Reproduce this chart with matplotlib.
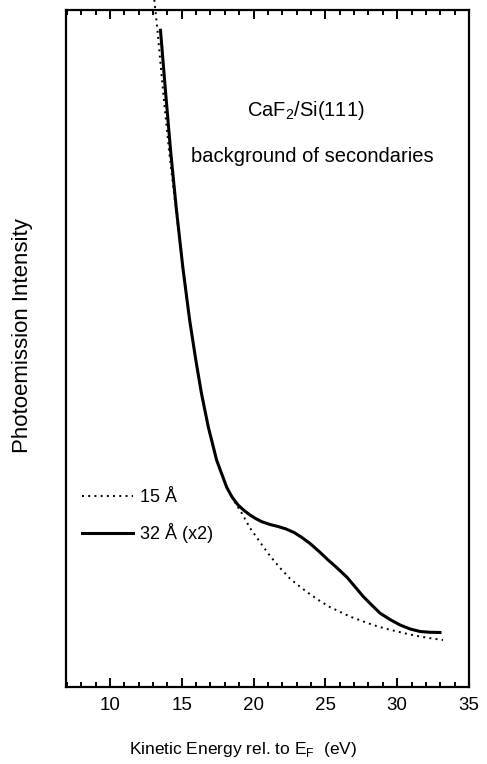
import numpy as np
import matplotlib
matplotlib.use("Agg")
import matplotlib.pyplot as plt
from matplotlib.ticker import MultipleLocator

plt.rcParams['font.family'] = ['Liberation Sans', 'DejaVu Sans']

# secondary-electron background, 32 A film (scaled x2)
e_32 = [13.52, 13.86, 14.22, 14.63, 15.08, 15.55, 15.98, 16.37, 16.85,
        17.43, 18.13, 18.50, 18.92, 19.34, 19.75, 20.17, 20.59, 21.15,
        21.70, 22.26, 22.82, 23.37, 23.93, 24.49, 25.12, 25.81, 26.51,
        27.07, 27.62, 28.18, 28.81, 29.50, 30.20, 30.90, 31.59, 32.29,
        32.98]
i_32 = [0.970, 0.882, 0.793, 0.705, 0.619, 0.542, 0.483, 0.434, 0.384,
        0.335, 0.295, 0.2807, 0.2688, 0.2607, 0.2541, 0.2485, 0.2440, 0.2400,
        0.2371, 0.2334, 0.2282, 0.2208, 0.2120, 0.2016, 0.189, 0.176, 0.162,
        0.148, 0.134, 0.122, 0.109, 0.0997, 0.0916, 0.0857, 0.0820, 0.0808,
        0.0805]

# 15 A film
e_15 = [13.09, 13.31, 13.69, 14.11, 14.60, 15.08, 15.55, 15.98, 16.37,
        16.85, 17.43, 18.13, 18.64, 19.20, 19.75, 20.45, 21.15, 21.84,
        22.54, 23.24, 23.93, 24.63, 25.32, 26.02, 26.72, 27.55, 28.32,
        29.15, 29.99, 30.90, 31.59, 32.43, 33.19]
i_15 = [1.015, 0.970, 0.882, 0.793, 0.705, 0.619, 0.542, 0.483, 0.434,
        0.384, 0.335, 0.295, 0.275, 0.256, 0.235, 0.214, 0.1935, 0.176,
        0.160, 0.148, 0.137, 0.127, 0.118, 0.111, 0.104, 0.0975, 0.0916,
        0.0864, 0.0820, 0.0775, 0.0746, 0.0716, 0.0694]

fig = plt.figure(figsize=(4.87, 7.64), dpi=100)
ax = fig.add_axes([0.1355, 0.1008, 0.8275, 0.8861])

ax.plot(e_15, i_15, color='black', lw=1.4, linestyle=(0, (1, 2.2)),
        clip_on=False, label='15 Å')
ax.plot(e_32, i_32, color='black', lw=2.2, label='32 Å (x2)',
        solid_joinstyle='round')

ax.set_xlim(6.94, 35)
ax.set_ylim(0, 1)

ax.xaxis.set_major_locator(MultipleLocator(5))
ax.xaxis.set_minor_locator(MultipleLocator(1))
ax.tick_params(axis='x', which='both', direction='in', top=True, bottom=True,
               width=1.4, labelsize=13.5, pad=7)
ax.tick_params(axis='x', which='major', length=6.5)
ax.tick_params(axis='x', which='minor', length=3.5)
ax.tick_params(axis='y', left=False, right=False, labelleft=False)
for s in ax.spines.values():
    s.set_linewidth(1.6)

fig.text(243 / 487, 0.0131, 'Kinetic Energy rel. to E$_\\mathregular{F}$  (eV)',
         fontsize=12.5, ha='center', va='baseline')
fig.text(0.047, 0.561, 'Photoemission Intensity', rotation=90, fontsize=16,
         ha='center', va='center')

ax.text(0.596, 0.852, 'CaF$_\\mathregular{2}$/Si(111)', transform=ax.transAxes,
        fontsize=14.5, ha='center', va='center')
ax.text(0.61, 0.783, 'background of secondaries', transform=ax.transAxes,
        fontsize=14.5, ha='center', va='center')

ax.legend(loc='upper left', bbox_to_anchor=(0.04, 0.292), frameon=False,
          fontsize=13, handlelength=2.8, handletextpad=0.4,
          labelspacing=0.95, borderpad=0, borderaxespad=0)

fig.savefig('out.png', dpi=100)
